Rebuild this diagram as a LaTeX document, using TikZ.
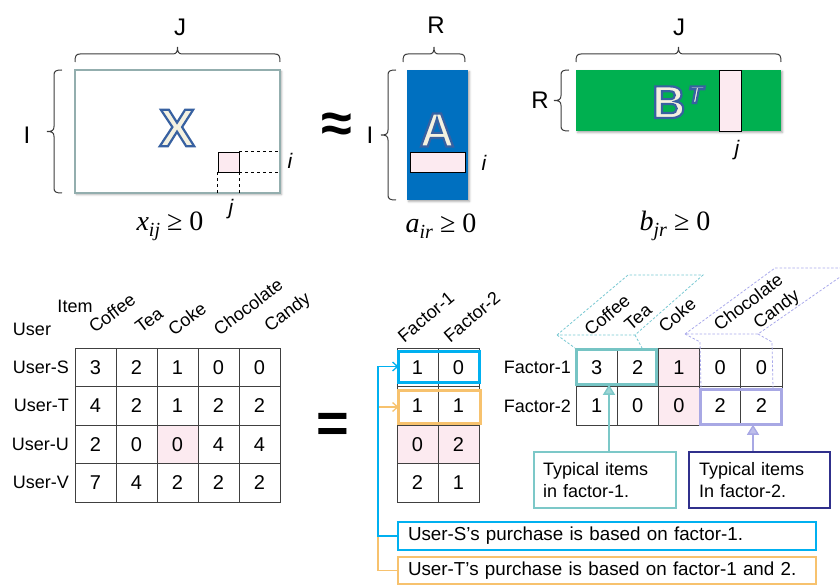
\documentclass[tikz,border=0pt]{standalone}
\usepackage{fontspec}
\setmainfont{Liberation Sans}
\newfontfamily\seriffam{Liberation Serif}
\usetikzlibrary{arrows.meta,shadows.blur,calc}

\definecolor{gridgray}{RGB}{64,64,64}
\definecolor{bracegray}{RGB}{60,60,60}
\definecolor{frameteal}{RGB}{147,174,174}
\definecolor{ablue}{RGB}{0,112,192}
\definecolor{bgreen}{RGB}{0,176,80}
\definecolor{cellpink}{RGB}{252,234,240}
\definecolor{olfill}{RGB}{244,241,224}
\definecolor{hlblue}{RGB}{0,176,240}
\definecolor{hlorange}{RGB}{247,194,110}
\definecolor{hlteal}{RGB}{118,196,196}
\definecolor{hlpurple}{RGB}{168,168,228}
\definecolor{calloutteal}{RGB}{124,200,200}
\definecolor{calloutpurple}{RGB}{48,48,140}
\definecolor{dashteal}{RGB}{120,200,210}
\definecolor{dashpurple}{RGB}{170,170,235}

% cream letter stroked in blue (text render mode 2)
\newcommand\outl[1]{%
  {\color{olfill}\special{pdf:literal direct 2 Tr 2.2 w 0.22 0.38 0.63 RG}#1\special{pdf:literal direct 0 Tr}}}

% brace over a span: #1 left x, #2 right x, #3 y of the feet
\newcommand\hbrace[3]{%
  \draw[bracestroke] (#1,#3) .. controls (#1,{#3-6}) and ({#1+1},{#3-8}) .. ({#1+5},{#3-8})
    -- ({(#1+#2)/2-5},{#3-8}) .. controls ({(#1+#2)/2-1},{#3-8}) and ({(#1+#2)/2},{#3-10}) .. ({(#1+#2)/2},{#3-15})
    .. controls ({(#1+#2)/2},{#3-10}) and ({(#1+#2)/2+1},{#3-8}) .. ({(#1+#2)/2+5},{#3-8})
    -- ({#2-5},{#3-8}) .. controls ({#2-1},{#3-8}) and (#2,{#3-6}) .. (#2,#3);}
% brace left of a span: #1 top y, #2 bottom y, #3 x of the feet
\newcommand\vbrace[3]{%
  \draw[bracestroke] (#3,#1) .. controls ({#3-6},#1) and ({#3-8},{#1+1}) .. ({#3-8},{#1+5})
    -- ({#3-8},{(#1+#2)/2-5}) .. controls ({#3-8},{(#1+#2)/2-1}) and ({#3-10},{(#1+#2)/2}) .. ({#3-15},{(#1+#2)/2})
    .. controls ({#3-10},{(#1+#2)/2}) and ({#3-8},{(#1+#2)/2+1}) .. ({#3-8},{(#1+#2)/2+5})
    -- ({#3-8},{#2-5}) .. controls ({#3-8},{#2-1}) and ({#3-6},#2) .. (#3,#2);}

\begin{document}
\begin{tikzpicture}[x=1pt,y=-1pt,
  bracestroke/.style={draw=bracegray, line width=1pt},
  lbl/.style={font=\fontsize{18}{18}\selectfont, inner sep=1pt},
  big/.style={font=\fontsize{24}{24}\selectfont, inner sep=0pt},
  idx/.style={font=\fontsize{21}{21}\selectfont\itshape, inner sep=0pt},
  mathlbl/.style={font=\seriffam\fontsize{28}{28}\selectfont, inner sep=0pt},
  cell/.style={draw=gridgray, line width=0.9pt, minimum width=41pt, minimum height=38.5pt,
    inner sep=0pt, font=\fontsize{20}{20}\selectfont},
  rcell/.style={cell, minimum width=41.2pt},
  hl/.style={draw=#1, line width=3pt, inner sep=0pt, outer sep=0pt},
  callout/.style={draw=#1, line width=2.2pt, fill=white, align=left,
    font=\fontsize{18}{22}\selectfont, minimum height=56pt, inner ysep=4pt},
  note/.style={draw=#1, line width=2pt, align=left, font=\fontsize{18.8}{19}\selectfont,
    text width=398pt, inner xsep=10pt, inner ysep=0pt, outer sep=0pt},
  head/.style={lbl, rotate=37},
  fhead/.style={lbl, rotate=40},
  dashln/.style={draw=#1, dash pattern=on 2.5pt off 1.8pt, line width=0.8pt},
  link/.style={draw=#1, line width=1.3pt, -{Straight Barb[length=5pt, width=9pt]}},
  pointer/.style={draw=#1, line width=1.3pt, -{Triangle[length=10pt, width=12pt, fill=#1!75]}},
  pinkbox/.style={draw=black, line width=0.8pt, fill=cellpink, inner sep=0pt},
  shade/.style={blur shadow={shadow xshift=1.5pt, shadow yshift=-1.5pt, shadow blur radius=2pt, shadow opacity=35}}
]
\useasboundingbox (0,0) rectangle (840,588);

%% ---------- X ~ A B^T ----------
\node[draw=frameteal, line width=2.5pt, fill=white, minimum width=205pt, minimum height=123pt,
  inner sep=0pt, shade] (Xbox) at (177.5,131.5) {};
\node[font=\fontsize{53}{53}\selectfont\bfseries, inner sep=0pt] (bigX) at (177,128) {\outl{X}};
\node[pinkbox, minimum width=21pt, minimum height=20pt] (xij) at (228.5,162) {};
\draw[dashed, line width=0.7pt] (xij.north east) -- (xij.north east -| Xbox.east);
\draw[dashed, line width=0.7pt] (xij.south east) -- (xij.south east -| Xbox.east);
\draw[dashed, line width=0.7pt] (xij.south west) -- (xij.south west |- Xbox.south);
\draw[dashed, line width=0.7pt] (xij.south east) -- (xij.south east |- Xbox.south);
\node[idx] (xi) at (290,161) {i};
\node[idx] (xj) at (231,209) {j};
\hbrace{75}{280}{62}
\vbrace{70}{193}{62}
\node[big] (lblJa) at (180,27) {J};
\node[big] (lblIa) at (27,135) {I};
\node[mathlbl] (xcon) at (170,226) {\textit{x}\raisebox{-6pt}{\fontsize{20}{20}\selectfont\textit{ij}} ≥ 0};

\node[font=\fontsize{56}{56}\selectfont\bfseries, inner sep=0pt] (approx) at (337,128) {≈};

\node[fill=ablue, minimum width=61pt, minimum height=130pt, inner sep=0pt, shade] (Abox) at (437.5,135) {};
\node[font=\fontsize{48}{48}\selectfont\bfseries, inner sep=0pt] (bigA) at (437,130) {\outl{A}};
\node[pinkbox, minimum width=55pt, minimum height=20pt] (arow) at (437.5,162) {};
\node[idx] (ai) at (484,163) {i};
\hbrace{403}{465}{62}
\vbrace{70}{200}{396}
\node[big] (lblRa) at (436,25) {R};
\node[big] (lblIb) at (370,135) {I};
\node[mathlbl] (acon) at (441,226) {\textit{a}\raisebox{-6pt}{\fontsize{20}{20}\selectfont\textit{ir}} ≥ 0};

\node[fill=bgreen, minimum width=205pt, minimum height=61pt, inner sep=0pt, shade] (Bbox) at (678.5,100.5) {};
\node[font=\fontsize{46}{46}\selectfont\bfseries, inner sep=0pt, anchor=base west] (bigB) at (652,118)
  {\outl{B}\hspace{3pt}\raisebox{15pt}{\fontsize{24}{24}\selectfont\itshape\outl{T}}};
\node[pinkbox, minimum width=22pt, minimum height=61pt] (bcol) at (730,100.5) {};
\node[idx] (bj) at (737,150) {j};
\hbrace{576}{781}{62}
\vbrace{70}{131}{569}
\node[big] (lblJb) at (679,27) {J};
\node[big] (lblRb) at (540,100) {R};
\node[mathlbl] (bcon) at (675,226) {\textit{b}\raisebox{-6pt}{\fontsize{20}{20}\selectfont\textit{jr}} ≥ 0};

%% ---------- purchase table ----------
\foreach \row [count=\r from 0] in {{3,2,1,0,0},{4,2,1,2,2},{2,0,0,4,4},{7,4,2,2,2}} {
  \foreach \v [count=\c from 0] in \row {
    \edef\fc{\ifnum\r\c=22 cellpink\else white\fi}
    \node[cell, fill=\fc] (L-\r-\c) at ({75+41*\c+20.5},{348+38.5*\r+19.25}) {\v};
  }
}
\foreach \nm [count=\r from 0] in {S,T,U,V}
  \node[lbl, anchor=east] (user\nm) at (70,{348+38.5*\r+19.25}) {User-\nm};
\node[lbl] (hUser) at (32,329) {User};
\node[lbl] (hItem) at (75,306) {Item};
\node[head] (hCoffee) at (112,313) {Coffee};
\node[head] (hTea) at (149,320) {Tea};
\node[head] (hCoke) at (187,319) {Coke};
\node[head] (hChoc) at (248,307) {Chocolate};
\node[head] (hCandy) at (288,313) {Candy};

\node[font=\fontsize{56}{56}\selectfont\bfseries, inner sep=0pt] (eq) at (333,428) {=};

%% ---------- user factor table ----------
\foreach \row [count=\r from 0] in {{1,0},{1,1},{0,2},{2,1}} {
  \foreach \v [count=\c from 0] in \row {
    \edef\fc{\ifnum\r=2 cellpink\else white\fi}
    \node[cell, fill=\fc] (U-\r-\c) at ({397+41*\c+20.5},{348+38.5*\r+19.25}) {\v};
  }
}
\node[fhead] (hF1a) at (426,317) {Factor-1};
\node[fhead] (hF2a) at (472,317) {Factor-2};
\node[hl=hlblue, minimum width=81pt, minimum height=31pt] (hS) at (439,366.5) {};
\node[hl=hlorange, minimum width=82pt, minimum height=32.5pt] (hT) at (439.5,407) {};

%% ---------- item factor table ----------
\foreach \row [count=\r from 0] in {{3,2,1,0,0},{1,0,0,2,2}} {
  \foreach \v [count=\c from 0] in \row {
    \edef\fc{\ifnum\c=2 cellpink\else white\fi}
    \node[rcell, fill=\fc] (F-\r-\c) at ({576+41.2*\c+20.6},{348+38.5*\r+19.25}) {\v};
  }
}
\node[lbl, anchor=east] (rF1) at (572,367) {Factor-1};
\node[lbl, anchor=east] (rF2) at (572,406) {Factor-2};
\node[head, rotate=3] (iCoffee) at (607,315) {Coffee};
\node[head, rotate=3] (iTea) at (638,317) {Tea};
\node[head, rotate=3] (iCoke) at (677,315) {Coke};
\node[head] (iChoc) at (748,302) {Chocolate};
\node[head] (iCandy) at (777,310) {Candy};

% grouping frames round the item names
\draw[dashln=dashteal] (557,335) -- (628,275) -- (703,275) -- (635,335) -- cycle;
\draw[dashln=dashteal] (557,335) -- (575,348);
\draw[dashln=dashteal] (635,335) -- (642,348);
\begin{scope}
  \clip (0,0) rectangle (840,588);
  \draw[dashln=dashpurple] (685,334) -- (775,268) -- (853,268) -- (758,334) -- cycle;
\end{scope}
\draw[dashln=dashpurple] (685,334) -- (700,342) -- (701,388);
\draw[dashln=dashpurple] (758,334) -- (772,342) -- (773,388);

\node[hl=hlteal, minimum width=80pt, minimum height=35.5pt] (hF1) at (616.5,367) {};
\node[hl=hlpurple, minimum width=81pt, minimum height=35.5pt] (hF2) at (740.5,407) {};

%% ---------- callouts ----------
\node[callout=calloutteal, text width=124pt, inner xsep=9pt] (cT) at (605,480)
  {Typical items\\in factor-1.};
\node[callout=calloutpurple, text width=121pt, inner xsep=10pt] (cP) at (759.5,480)
  {Typical items\\In factor-2.};
\coordinate (ax1) at (609,0);
\coordinate (ax2) at (753,0);
\draw[pointer=calloutteal] (cT.north -| ax1) -- (hF1.south -| ax1);
\draw[pointer=hlpurple] (cP.north -| ax2) -- (hF2.south -| ax2);

\node[note=hlblue, minimum height=28pt] (sB) at (607,536) {User-S’s purchase is based on factor-1.};
\node[note=hlorange, minimum height=27pt] (sT) at (607,570.5) {User-T’s purchase is based on factor-1 and 2.};
\draw[link=hlorange] (sT.west) -- ++(-20,0) |- (hT.west);
\draw[link=hlblue] (sB.west) -- ++(-20,0) |- (hS.west);
\end{tikzpicture}
\end{document}
